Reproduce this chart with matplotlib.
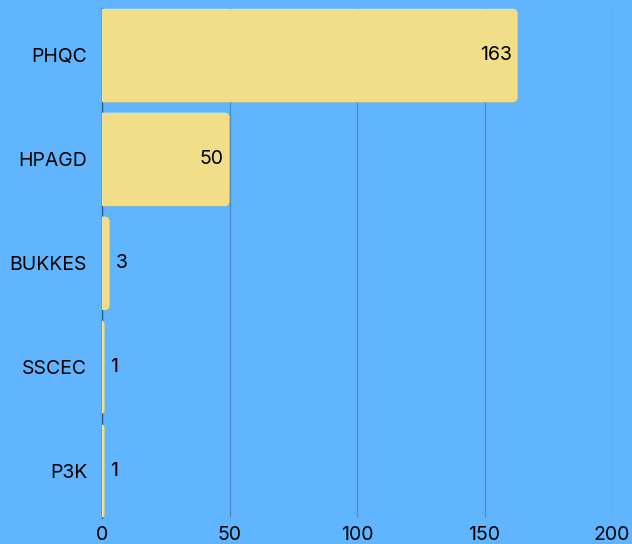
import matplotlib
matplotlib.use("Agg")
import matplotlib.pyplot as plt
from matplotlib.patches import FancyBboxPatch

categories = ["PHQC", "HPAGD", "BUKKES", "SSCEC", "P3K"]
values = [163, 50, 3, 1, 1]
xticks = [0, 50, 100, 150, 200]

BG = "#60b5fe"
BAR = "#f2de88"
GRID = "#4a8fcf"
SPINE = "#2a5f98"

plt.rcParams['font.family'] = ['Inter', 'DejaVu Sans']
FS = 14

W, H = 632, 544
fig = plt.figure(figsize=(W / 100, H / 100), dpi=100)
fig.patch.set_facecolor(BG)
ax = fig.add_axes([102 / W, 1 - 518 / H, (612 - 102) / W, (518 - 8) / H])
ax.set_facecolor(BG)
ax.set_xlim(0, 200)
ax.set_ylim(4.452, -0.457)

ax.set_xticks(xticks)
ax.set_xticklabels([str(t) for t in xticks])
ax.set_yticks(range(len(categories)))
ax.set_yticklabels(categories)
ax.tick_params(axis='both', length=0, labelsize=FS, labelcolor='black')
ax.tick_params(axis='y', pad=10.8)
ax.tick_params(axis='x', pad=6)
for s in ['top', 'right', 'bottom']:
    ax.spines[s].set_visible(False)
ax.spines['left'].set_color(SPINE)
ax.spines['left'].set_linewidth(1)
ax.grid(axis='x', color=GRID, linewidth=1)
ax.set_axisbelow(True)

px_x = 510 / 200.0  # px per data unit
px_y = 510 / 4.909
r_px = 5.0
bh = 0.9
for i, v in enumerate(values):
    start = -2.0
    width = v - start
    r = min(r_px / px_x, width / 2)
    aspect = (r_px / px_y) / (r_px / px_x)
    p = FancyBboxPatch((start, i - bh / 2), width, bh,
                       boxstyle=f"round,pad=0,rounding_size={r}",
                       mutation_aspect=aspect, facecolor=BAR,
                       edgecolor='none', zorder=3, clip_on=True)
    ax.add_patch(p)
    if v > 20:
        ax.text(v - 6 / px_x, i, str(v), ha='right', va='center',
                fontsize=FS, color='black', zorder=4)
    else:
        ax.text(v + 6 / px_x, i, str(v), ha='left', va='center',
                fontsize=FS, color='black', zorder=4)

fig.savefig("out.png", dpi=100, facecolor=BG)
